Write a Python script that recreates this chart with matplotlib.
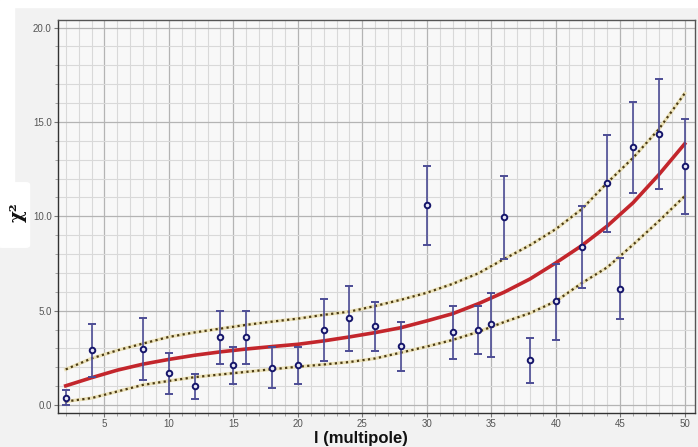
import matplotlib.pyplot as plt
import matplotlib.patches as mpatches
from matplotlib.ticker import MultipleLocator, FormatStrFormatter
import numpy as np

# measured points (multipole l, chi^2, lower and upper end of error bar)
l_pts = [2, 4, 8, 10, 12, 14, 15, 16, 18, 20, 22, 24, 26, 28, 30, 32, 34, 35, 36,
         38, 40, 42, 44, 45, 46, 48, 50]
chi2 = [0.40, 2.91, 2.98, 1.70, 1.02, 3.60, 2.12, 3.60, 1.98, 2.10, 4.00, 4.61,
        4.21, 3.12, 10.58, 3.88, 4.00, 4.28, 9.97, 2.39, 5.49, 8.39, 11.79, 6.17,
        13.66, 14.37, 12.67]
chi2_lo = [0.00, 1.50, 1.35, 0.60, 0.30, 2.16, 1.09, 2.16, 0.88, 1.09, 2.35, 2.88,
           2.88, 1.79, 8.47, 2.46, 2.68, 2.56, 7.74, 1.16, 3.46, 6.19, 9.17, 4.54,
           11.26, 11.44, 10.14]
chi2_hi = [0.79, 4.30, 4.60, 2.77, 1.67, 4.98, 3.09, 4.98, 3.09, 3.09, 5.61, 6.30,
           5.47, 4.38, 12.67, 5.26, 5.26, 5.95, 12.12, 3.56, 7.50, 10.54, 14.33, 7.77,
           16.03, 17.25, 15.14]

# expected curve and its band
l_fit = [2, 4, 6, 8, 10, 12, 14, 16, 18, 20, 22, 24, 26, 28, 30, 32, 34, 36, 38,
         40, 42, 44, 46, 48, 50]
fit_mid = [1.02, 1.45, 1.85, 2.17, 2.42, 2.64, 2.82, 2.97, 3.10, 3.22, 3.40, 3.61,
           3.84, 4.10, 4.46, 4.84, 5.37, 5.98, 6.68, 7.53, 8.44, 9.49, 10.72, 12.21,
           13.84]
fit_up = [1.89, 2.47, 2.90, 3.26, 3.61, 3.85, 4.05, 4.25, 4.42, 4.58, 4.78, 4.95,
          5.25, 5.58, 5.95, 6.42, 6.98, 7.74, 8.47, 9.32, 10.37, 11.78, 13.10, 14.62,
          16.51]
fit_low = [0.19, 0.37, 0.72, 1.07, 1.28, 1.48, 1.62, 1.76, 1.90, 2.03, 2.15, 2.28,
           2.47, 2.78, 3.10, 3.45, 3.88, 4.40, 4.87, 5.50, 6.45, 7.30, 8.50, 9.75,
           11.07]

plt.rcParams['font.family'] = ['Liberation Sans', 'DejaVu Sans']

fig = plt.figure(figsize=(6.98, 4.47), dpi=100)
fig.patch.set_facecolor('#f2f2f2')
# white bits of the screenshot
fig.patches.append(mpatches.Rectangle((0, 1 - 7 / 447), 1, 7 / 447, transform=fig.transFigure,
                                      color='white', zorder=-2))
fig.patches.append(mpatches.Rectangle((0, 0.45), 14 / 698, 0.55, transform=fig.transFigure,
                                      color='white', zorder=-2))
fig.patches.append(mpatches.FancyBboxPatch((2 / 698, (447 - 245) / 447), 24 / 698, 60 / 447,
                                           boxstyle='round,pad=0.005', transform=fig.transFigure,
                                           color='white', zorder=-2))

ax = fig.add_axes([58 / 698, 34 / 447, 637 / 698, 393 / 447])
ax.set_facecolor('#f8f8f8')

ax.set_xlim(1.4, 50.8)
ax.set_ylim(-0.42, 20.4)

ax.xaxis.set_major_locator(MultipleLocator(5))
ax.xaxis.set_minor_locator(MultipleLocator(1))
ax.yaxis.set_major_locator(MultipleLocator(5))
ax.yaxis.set_minor_locator(MultipleLocator(1))
ax.yaxis.set_major_formatter(FormatStrFormatter('%.1f'))
ax.set_xticks([5, 10, 15, 20, 25, 30, 35, 40, 45, 50])

ax.grid(which='major', color='#b4b4b4', linewidth=0.9)
ax.grid(which='minor', color='#d9d9d9', linewidth=0.8)
ax.set_axisbelow(True)

ax.tick_params(which='major', direction='out', length=3, width=0.8, color='#777777',
               labelsize=7, labelcolor='#555555', pad=1.5)
ax.tick_params(which='minor', direction='out', length=2, width=0.6, color='#999999')

for s in ax.spines.values():
    s.set_color('#555555')
    s.set_linewidth(1.0)
ax.spines['left'].set_color('#333333')
ax.spines['bottom'].set_color('#333333')

# band lines
for band in (fit_up, fit_low):
    ax.plot(l_fit, band, color='#ece2b8', linewidth=2.4, zorder=2)
    ax.plot(l_fit, band, color='#4a3a14', linewidth=1.6, linestyle=(0, (1, 1.5)), zorder=3)

ax.plot(l_fit, fit_mid, color='#c3262c', linewidth=2.6, zorder=4)

y = np.array(chi2)
yerr = [y - np.array(chi2_lo), np.array(chi2_hi) - y]
ax.errorbar(l_pts, chi2, yerr=yerr, fmt='o', color='#24246e', ecolor='#4d4d95',
            elinewidth=1.2, capsize=3, capthick=1.0, markersize=4,
            markerfacecolor='#e6e6f5', markeredgecolor='#15156a', markeredgewidth=1.4,
            zorder=5)

fig.text(361 / 698, 3.5 / 447, 'l (multipole)', ha='center', va='baseline',
         fontsize=12, fontweight='bold', color='#111111')
fig.text(18 / 698, (447 - 212) / 447, 'χ²', ha='center', va='center', rotation=90,
         fontsize=13, fontweight='bold', color='#111111', family=['DejaVu Serif'])

fig.savefig('out.png', dpi=100, facecolor=fig.get_facecolor())
